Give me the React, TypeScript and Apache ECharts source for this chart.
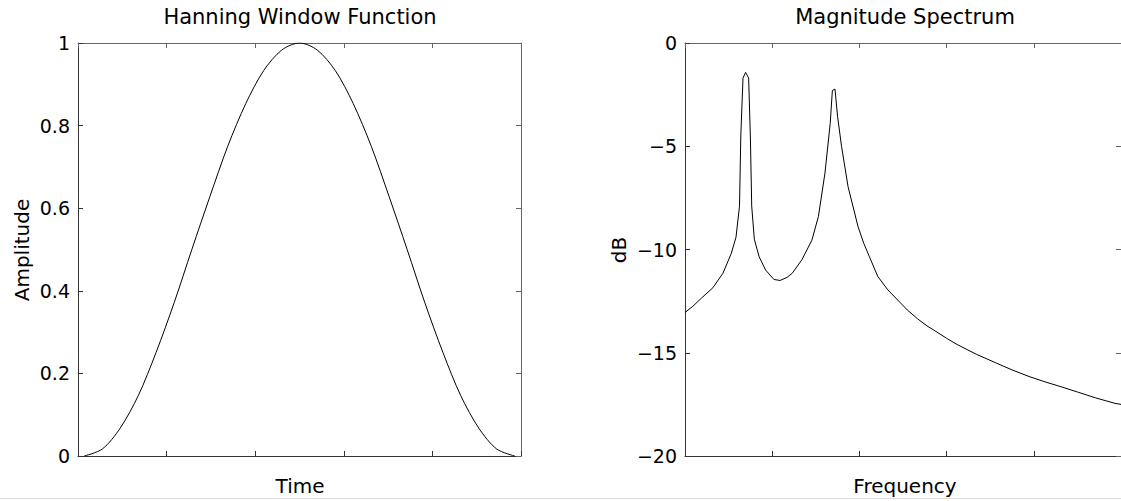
import React, { useEffect, useRef } from "react";
import * as echarts from "echarts";

// Hanning window (left panel)
const hannTime = [0.014, 0.055, 0.095, 0.136, 0.176, 0.217, 0.257, 0.298, 0.338, 0.379, 0.419, 0.46, 0.5, 0.54, 0.581, 0.621, 0.662, 0.702, 0.743, 0.783, 0.824, 0.864, 0.905, 0.945, 0.986];
const hannAmp = [0, 0.017, 0.067, 0.146, 0.25, 0.371, 0.5, 0.629, 0.75, 0.854, 0.933, 0.983, 1, 0.983, 0.933, 0.854, 0.75, 0.629, 0.5, 0.371, 0.25, 0.146, 0.067, 0.017, 0];

// Magnitude spectrum (right panel)
const specFreq = [0, 0.018, 0.038, 0.064, 0.087, 0.106, 0.117, 0.125, 0.128, 0.133, 0.139, 0.146, 0.15, 0.153, 0.159, 0.17, 0.185, 0.204, 0.218, 0.234, 0.246, 0.268, 0.291, 0.306, 0.321, 0.333, 0.338, 0.344, 0.35, 0.359, 0.374, 0.397, 0.41, 0.423, 0.442, 0.465, 0.488, 0.51, 0.533, 0.555, 0.578, 0.6, 0.624, 0.669, 0.714, 0.75, 0.789, 0.826, 0.866, 0.9, 0.941, 0.986, 1.0];
const specDb = [-13.05, -12.75, -12.35, -11.85, -11.15, -10.2, -9.4, -7.9, -4.5, -1.7, -1.42, -1.7, -4.6, -7.9, -9.5, -10.35, -11.0, -11.45, -11.5, -11.35, -11.15, -10.5, -9.55, -8.4, -6.3, -3.9, -2.3, -2.23, -3.57, -5.0, -6.96, -8.9, -9.7, -10.35, -11.3, -11.95, -12.45, -12.93, -13.35, -13.7, -14.0, -14.3, -14.6, -15.08, -15.5, -15.83, -16.15, -16.41, -16.67, -16.9, -17.18, -17.45, -17.5];

const titles = ["Hanning Window Function", "Magnitude Spectrum"];
const xNames = ["Time", "Frequency"];
const yNames = ["Amplitude", "dB"];

const FONT = "'DejaVu Sans', sans-serif";
const AXIS_DARK = "#333";
const AXIS_LIGHT = "#666";

export default function App() {
  const ref = useRef<HTMLDivElement>(null);

  useEffect(() => {
    const chart = echarts.init(ref.current!, null, { renderer: "svg" });

    const boxAxis = (gridIndex: number, position: string, color: string, extra: any) => ({
      type: "value",
      gridIndex,
      position,
      axisLine: { show: true, onZero: false, lineStyle: { color, width: 1 } },
      axisTick: { show: true, inside: true, length: 5, lineStyle: { color, width: 1 } },
      axisLabel: { show: false },
      splitLine: { show: false },
      ...extra,
    });

    const labelStyle = {
      show: true,
      color: "#000",
      fontFamily: FONT,
      fontSize: 19,
      margin: 8,
    };

    chart.setOption({
      animation: false,
      backgroundColor: "#fff",
      grid: [
        { left: 78, top: 43, width: 443, height: 413 },
        { left: 685, top: 43, width: 441, height: 413 },
      ],
      xAxis: [
        boxAxis(0, "bottom", AXIS_DARK, { min: 0, max: 1, interval: 0.2 }),
        boxAxis(0, "top", AXIS_LIGHT, { min: 0, max: 1, interval: 0.2 }),
        boxAxis(1, "bottom", AXIS_DARK, { min: 0, max: 1, interval: 0.2 }),
        boxAxis(1, "top", AXIS_LIGHT, { min: 0, max: 1, interval: 0.2 }),
      ],
      yAxis: [
        boxAxis(0, "left", AXIS_DARK, {
          min: 0,
          max: 1,
          interval: 0.2,
          axisLabel: { ...labelStyle },
        }),
        boxAxis(0, "right", AXIS_LIGHT, { min: 0, max: 1, interval: 0.2 }),
        boxAxis(1, "left", AXIS_DARK, {
          min: -20,
          max: 0,
          interval: 5,
          axisLabel: {
            ...labelStyle,
            formatter: (v: number) => String(v).replace("-", "\u2212"),
          },
        }),
        boxAxis(1, "right", AXIS_LIGHT, { min: -20, max: 0, interval: 5 }),
      ],
      series: [
        {
          type: "line",
          xAxisIndex: 0,
          yAxisIndex: 0,
          data: hannTime.map((t, i) => [t, hannAmp[i]]),
          smooth: 0.3,
          showSymbol: false,
          lineStyle: { color: "#000", width: 1 },
          silent: true,
        },
        {
          type: "line",
          xAxisIndex: 2,
          yAxisIndex: 2,
          data: specFreq.map((f, i) => [f, specDb[i]]),
          showSymbol: false,
          lineStyle: { color: "#000", width: 1 },
          silent: true,
        },
      ],
      graphic: [
        { type: "text", x: 300, y: 17, style: { text: titles[0], font: `21px ${FONT}`, fill: "#000", align: "center", verticalAlign: "middle" } },
        { type: "text", x: 905, y: 17, style: { text: titles[1], font: `21px ${FONT}`, fill: "#000", align: "center", verticalAlign: "middle" } },
        { type: "text", x: 300, y: 486, style: { text: xNames[0], font: `20px ${FONT}`, fill: "#000", align: "center", verticalAlign: "middle" } },
        { type: "text", x: 905, y: 486, style: { text: xNames[1], font: `20px ${FONT}`, fill: "#000", align: "center", verticalAlign: "middle" } },
        { type: "text", x: 22, y: 250, rotation: Math.PI / 2, style: { text: yNames[0], font: `20px ${FONT}`, fill: "#000", align: "center", verticalAlign: "middle" } },
        { type: "text", x: 619, y: 250, rotation: Math.PI / 2, style: { text: yNames[1], font: `20px ${FONT}`, fill: "#000", align: "center", verticalAlign: "middle" } },
        { type: "line", shape: { x1: 0, y1: 498.5, x2: 1121, y2: 498.5 }, style: { stroke: "#dedede", lineWidth: 1 } },
      ],
    });

    return () => chart.dispose();
  }, []);

  return (
    <div
      ref={ref}
      style={{ position: "fixed", left: 0, top: 0, width: 1121, height: 501, background: "#fff" }}
    />
  );
}
